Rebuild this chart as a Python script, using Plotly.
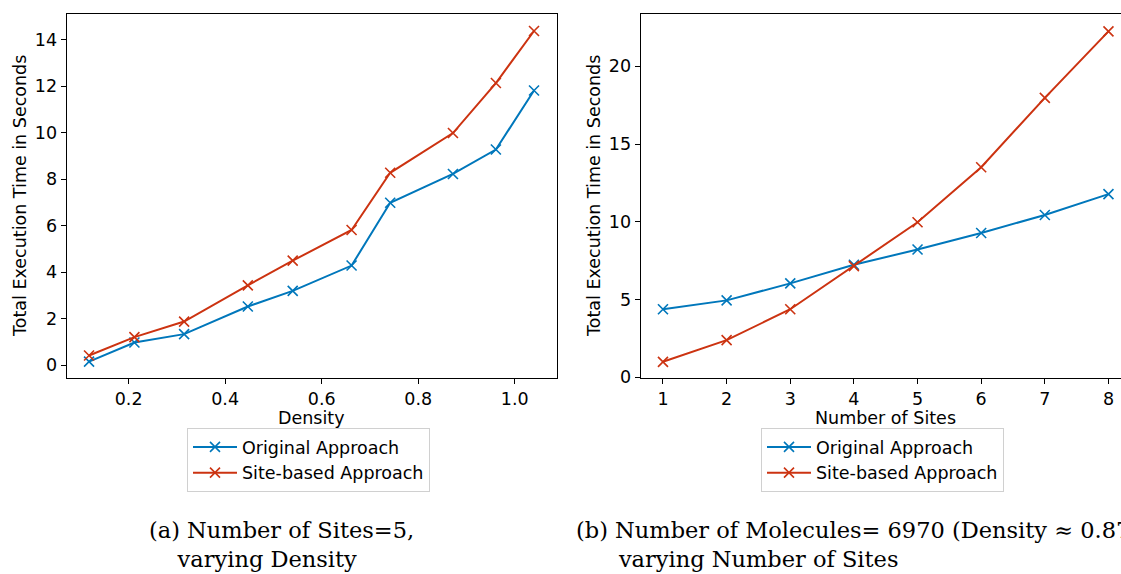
import plotly.graph_objects as go

# ---- data ----
density = [0.118, 0.212, 0.315, 0.447, 0.540, 0.662, 0.742, 0.872, 0.961, 1.040]
original_by_density = [0.15, 0.97, 1.33, 2.52, 3.19, 4.28, 6.98, 8.22, 9.27, 11.81]
site_based_by_density = [0.41, 1.20, 1.87, 3.43, 4.49, 5.81, 8.27, 9.98, 12.13, 14.37]

num_sites = [1, 2, 3, 4, 5, 6, 7, 8]
original_by_sites = [4.38, 4.95, 6.04, 7.24, 8.22, 9.28, 10.44, 11.78]
site_based_by_sites = [1.00, 2.39, 4.38, 7.15, 9.97, 13.51, 17.97, 22.24]

series_names = ["Original Approach", "Site-based Approach"]
density_ticks = [0.2, 0.4, 0.6, 0.8, 1.0]
density_tick_text = ["0.2", "0.4", "0.6", "0.8", "1.0"]
time_ticks_a = [0, 2, 4, 6, 8, 10, 12, 14]
time_ticks_b = [0, 5, 10, 15, 20]

BLUE = "#0077BB"
RED = "#CC3311"
SANS = "DejaVu Sans"
SERIF = "DejaVu Serif"
FS = 17.5
CAP_FS = 22.5
W, H = 1121, 574
NB = "\u00a0"


def px_x(p):
    return p / W


def px_y(p):
    return 1 - p / H


def series(x, y, name, color, xa, ya, legend):
    return go.Scatter(
        x=x, y=y, name=name, mode="lines+markers",
        line=dict(color=color, width=2),
        marker=dict(symbol="x-thin", size=10, line=dict(color=color, width=1.6)),
        xaxis=xa, yaxis=ya, legend=legend,
    )


fig = go.Figure()
fig.add_trace(series(density, original_by_density, series_names[0], BLUE, "x", "y", "legend"))
fig.add_trace(series(density, site_based_by_density, series_names[1], RED, "x", "y", "legend"))
fig.add_trace(series(num_sites, original_by_sites, series_names[0], BLUE, "x2", "y2", "legend2"))
fig.add_trace(series(num_sites, site_based_by_sites, series_names[1], RED, "x2", "y2", "legend2"))

axis_common = dict(
    showline=True, linecolor="black", linewidth=1.2,
    ticks="outside", ticklen=5, tickwidth=1.2, tickcolor="black",
    showgrid=False, zeroline=False, automargin=False,
    tickfont=dict(family=SANS, size=FS, color="black"),
)

y_dom = [px_y(378.3), px_y(14)]

legend_common = dict(
    y=px_y(428), xanchor="left", yanchor="top",
    bgcolor="white", bordercolor="#d0d0d0", borderwidth=1,
    font=dict(family=SANS, size=FS, color="black"), itemwidth=44,
    tracegroupgap=0,
)

fig.update_layout(
    width=W, height=H,
    margin=dict(l=0, r=0, t=0, b=0, autoexpand=False),
    paper_bgcolor="white", plot_bgcolor="white",
    xaxis=dict(axis_common, domain=[px_x(66.7), px_x(556.7)], range=[0.0717, 1.087],
               tickvals=density_ticks, ticktext=density_tick_text, mirror=True, anchor="y"),
    yaxis=dict(axis_common, domain=y_dom, range=[-0.57, 15.10],
               tickvals=time_ticks_a, mirror=True, anchor="x"),
    xaxis2=dict(axis_common, domain=[px_x(640.7), 1.0], range=[0.65, 8.197],
                tickvals=num_sites, mirror=True, anchor="y2"),
    yaxis2=dict(axis_common, domain=y_dom, range=[-0.06, 23.36],
                tickvals=time_ticks_b, mirror=False, anchor="x2"),
    legend=dict(legend_common, x=px_x(187)),
    legend2=dict(legend_common, x=px_x(761)),
)

annotations = [
    # axis titles
    dict(text="Density", x=px_x(311.7), y=px_y(418), xanchor="center", yanchor="middle",
         font=dict(family=SANS, size=FS, color="black")),
    dict(text="Number of Sites", x=px_x(885.6), y=px_y(418), xanchor="center", yanchor="middle",
         font=dict(family=SANS, size=FS, color="black")),
    dict(text="Total Execution Time in Seconds", x=px_x(20), y=px_y(196), textangle=-90,
         xanchor="center", yanchor="middle", font=dict(family=SANS, size=FS, color="black")),
    dict(text="Total Execution Time in Seconds", x=px_x(594), y=px_y(196), textangle=-90,
         xanchor="center", yanchor="middle", font=dict(family=SANS, size=FS, color="black")),
    # sub-figure captions
    dict(text="(a) Number of Sites=5,<br>" + NB * 4 + "varying Density",
         x=px_x(147), y=px_y(544), xanchor="left", yanchor="middle", align="left",
         font=dict(family=SERIF, size=CAP_FS, color="black")),
    dict(text="(b) Number of Molecules= 6970 (Density ≈ 0.87),<br>" + NB * 6 + "varying Number of Sites",
         x=px_x(574), y=px_y(544), xanchor="left", yanchor="middle", align="left",
         font=dict(family=SERIF, size=CAP_FS, color="black")),
]
for a in annotations:
    a.update(xref="paper", yref="paper", showarrow=False)
fig.update_layout(annotations=annotations)

fig.write_html("out.html")
